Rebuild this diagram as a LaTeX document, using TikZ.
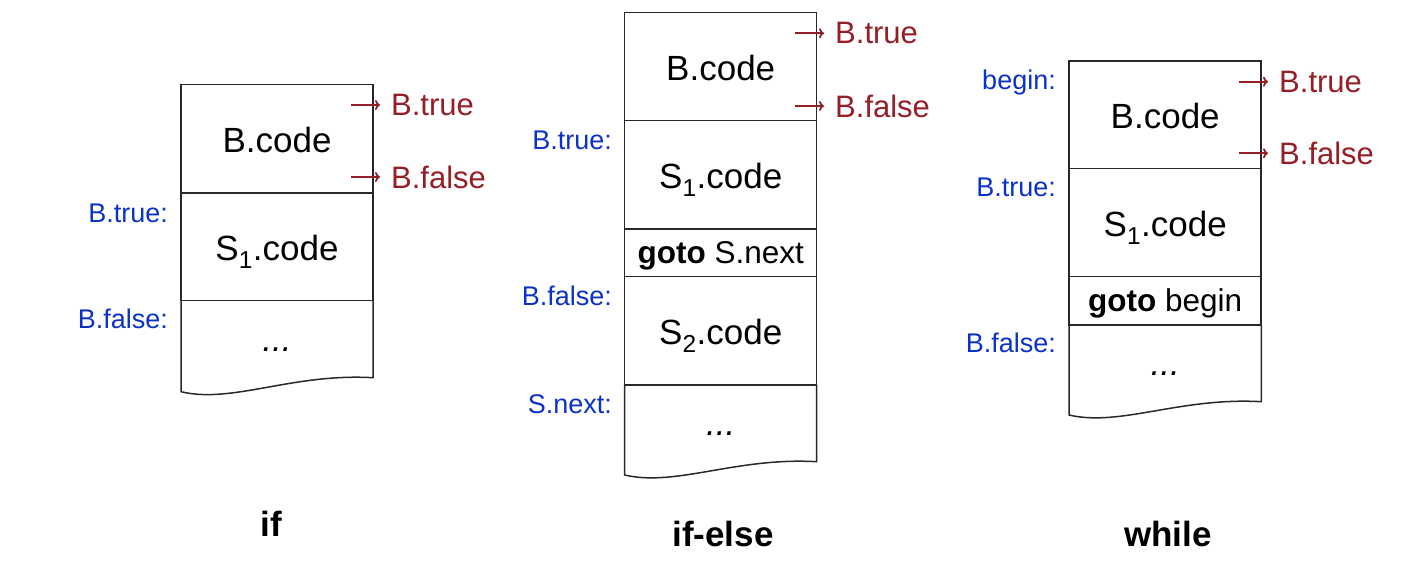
\documentclass[tikz,border=0pt]{standalone}
\usepackage{fontspec}
\setmainfont{Liberation Sans}
\usetikzlibrary{arrows.meta}
\definecolor{boxc}{RGB}{40,40,40}
\definecolor{dred}{RGB}{150,30,38}
\definecolor{lblue}{RGB}{10,50,200}
\tikzset{
  cell/.style={draw=boxc, line width=1.5pt, minimum width=192pt, inner sep=0pt, text height=27pt, text depth=0pt, font=\fontsize{35}{40}\selectfont},
  gcell/.style={draw=boxc, line width=1.5pt, minimum width=192pt, inner sep=0pt, text height=21pt, text depth=0pt, font=\fontsize{31.5}{36}\selectfont},
  plain/.style={inner sep=0pt, anchor=base, font=\fontsize{35}{40}\selectfont},
  wave/.style={draw=boxc, line width=1.5pt},
  lbl/.style={text=lblue, font=\fontsize{27}{30}\selectfont, anchor=base east, inner sep=0pt},
  tgt/.style={text=dred, font=\fontsize{31}{34}\selectfont, anchor=west, inner sep=0pt},
  jmp/.style={draw=dred, line width=1.8pt, -{To[length=5pt,width=10pt]}},
  ttl/.style={font=\bfseries\fontsize{35}{40}\selectfont, anchor=base, inner sep=0pt}
}
\begin{document}
\begin{tikzpicture}[x=1pt,y=-1pt]
\useasboundingbox (0,0) rectangle (1416,578);
% ---------- if ----------
\node[cell, minimum height=108.3pt] (a1) at (277,138.85) {B.code};
\node[cell, minimum height=107.7pt] (a2) at (277,246.85) {S\textsubscript{1}.code};
\draw[wave] (181,300.7) -- (181,391.7) .. controls (232,404) and (292,373) .. (373,377.7) -- (373,300.7);
\node[plain] (a3) at (277,351) {\textit{...}};
\node[tgt] (at) at (391,105) {B.true};
\node[tgt] (af) at (391,177) {B.false};
\coordinate (as1) at (351,105);
\coordinate (as2) at (351,177);
\draw[jmp] (as1) -- ([xshift=-11pt]at.west);
\draw[jmp] (as2) -- ([xshift=-11pt]af.west);
\node[lbl] (al1) at (168,222) {B.true:};
\node[lbl] (al2) at (168,328) {B.false:};
\node[ttl] (atl) at (271,536) {if};
% ---------- if-else ----------
\node[cell, minimum height=108pt] (b1) at (720.7,66.7) {B.code};
\node[cell, minimum height=108.3pt] (b2) at (720.7,174.85) {S\textsubscript{1}.code};
\node[gcell, minimum height=47.7pt] (b3) at (720.7,252.85) {\textbf{goto} S.next};
\node[cell, minimum height=108.3pt] (b4) at (720.7,330.85) {S\textsubscript{2}.code};
\draw[wave] (624.7,385) -- (624.7,475) .. controls (676,487) and (736,457) .. (816.7,461.7) -- (816.7,385);
\node[plain] (b5) at (720.7,435.7) {\textit{...}};
\node[tgt] (bt) at (835,33.3) {B.true};
\node[tgt] (bf) at (835,106) {B.false};
\coordinate (bs1) at (795,33.3);
\coordinate (bs2) at (795,106);
\draw[jmp] (bs1) -- ([xshift=-11pt]bt.west);
\draw[jmp] (bs2) -- ([xshift=-11pt]bf.west);
\node[lbl] (bl1) at (612,149) {B.true:};
\node[lbl] (bl2) at (612,305) {B.false:};
\node[lbl] (bl3) at (612,413) {S.next:};
\node[ttl] (btl) at (723,546.5) {if-else};
% ---------- while ----------
\node[cell, minimum height=107.7pt] (c1) at (1165.2,114.85) {B.code};
\node[cell, minimum height=108pt] (c2) at (1165.2,222.7) {S\textsubscript{1}.code};
\node[gcell, minimum height=48.3pt] (c3) at (1165.2,300.85) {\textbf{goto} begin};
\draw[wave] (1069,325) -- (1069,415) .. controls (1120,427) and (1180,397) .. (1261.3,401.7) -- (1261.3,325);
\node[plain] (c4) at (1165.2,375) {\textit{...}};
\node[tgt] (ct) at (1279,81.7) {B.true};
\node[tgt] (cf) at (1279,153.3) {B.false};
\coordinate (cs1) at (1239,81.7);
\coordinate (cs2) at (1239,153.3);
\draw[jmp] (cs1) -- ([xshift=-11pt]ct.west);
\draw[jmp] (cs2) -- ([xshift=-11pt]cf.west);
\node[lbl] (cl1) at (1056,89) {begin:};
\node[lbl] (cl2) at (1056,196.7) {B.true:};
\node[lbl] (cl3) at (1056,352.7) {B.false:};
\node[ttl] (ctl) at (1168,546.5) {while};
\end{tikzpicture}
\end{document}
